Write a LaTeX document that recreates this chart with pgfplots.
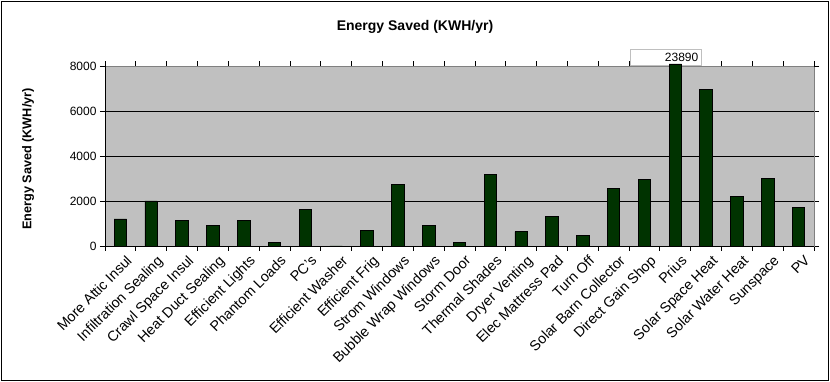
\documentclass[border=0pt]{standalone}
\usepackage{pgfplots}
\pgfplotsset{compat=1.18}
\usepackage{fontspec}
\setmainfont{Liberation Sans}
\definecolor{bargreen}{HTML}{003300}
\definecolor{plotgray}{HTML}{C0C0C0}
\definecolor{bordergray}{HTML}{808080}
\definecolor{boxgray}{HTML}{BFBFBF}
\begin{document}
\begin{tikzpicture}[x=1pt,y=1pt]
\useasboundingbox (0,0) rectangle (830,382);
\draw[black, line width=1pt] (1.5,1.5) rectangle (828.5,380.5);
\node[font=\fontsize{14}{16}\selectfont\bfseries] at (415,355) {Energy Saved (KWH/yr)};
\node[font=\fontsize{12.7}{14}\selectfont\bfseries, rotate=90] at (28,223) {Energy Saved (KWH/yr)};
\begin{axis}[
  at={(105pt,136pt)}, anchor=south west,
  scale only axis, width=709pt, height=180pt,
  xmin=-0.5, xmax=22.5, ymin=0, ymax=8000,
  clip=false,
  restrict y to domain*=0:8090,
  axis background/.style={fill=plotgray},
  axis line style={draw=bordergray, line width=0.9pt},
  ytick={0,2000,4000,6000},
  extra y ticks={8000},
  extra y tick style={grid=none},
  ymajorgrids,
  grid style={black, line width=0.9pt},
  yticklabel style={font=\fontsize{12}{14}\selectfont},
  /pgf/number format/1000 sep={},
  /pgf/number format/assume math mode=true,
  xtick={-0.5,0.5,...,22.5},
  xticklabels={},
  extra x ticks={0,...,22},
  extra x tick style={major tick length=0pt},
  extra x tick labels={More Attic Insul, Infiltration Sealing, Crawl Space Insul, Heat Duct Sealing, Efficient Lights, Phantom Loads, PC's, Efficient Washer, Efficient Frig, Strom Windows, Bubble Wrap Windows, Storm Door, Thermal Shades, Dryer Venting, Elec Mattress Pad, Turn Off, Solar Barn Collector, Direct Gain Shop, Prius, Solar Space Heat, Solar Water Heat, Sunspace, PV},
  xticklabel style={font=\fontsize{14.3}{16}\selectfont, rotate=45, anchor=north east, xshift=1pt, yshift=-6pt},
  tick align=outside,
  major tick length=5pt,
  tick style={black, line width=0.8pt},
]
\node[anchor=south, xshift=-9.5pt, draw=boxgray, fill=white, line width=0.8pt,
      text width=65pt, align=right, inner sep=3pt, minimum height=16pt,
      font=\fontsize{12}{14}\selectfont] at (axis cs:18,8000) {23890};
\addplot[ybar, bar width=12.5pt, fill=bargreen, draw=black, line width=0.8pt]
  coordinates {
  (0,1200) (1,2000) (2,1120) (3,930) (4,1120) (5,170) (6,1640) (7,0)
  (8,700) (9,2730) (10,930) (11,150) (12,3170) (13,635) (14,1300)
  (15,460) (16,2540) (17,2940) (18,23890) (19,6975) (20,2190) (21,2985) (22,1700)
  };
\draw[black, line width=0.9pt] (rel axis cs:0,1) -- (rel axis cs:0,0) -- (rel axis cs:1,0);
\end{axis}
\end{tikzpicture}
\end{document}
